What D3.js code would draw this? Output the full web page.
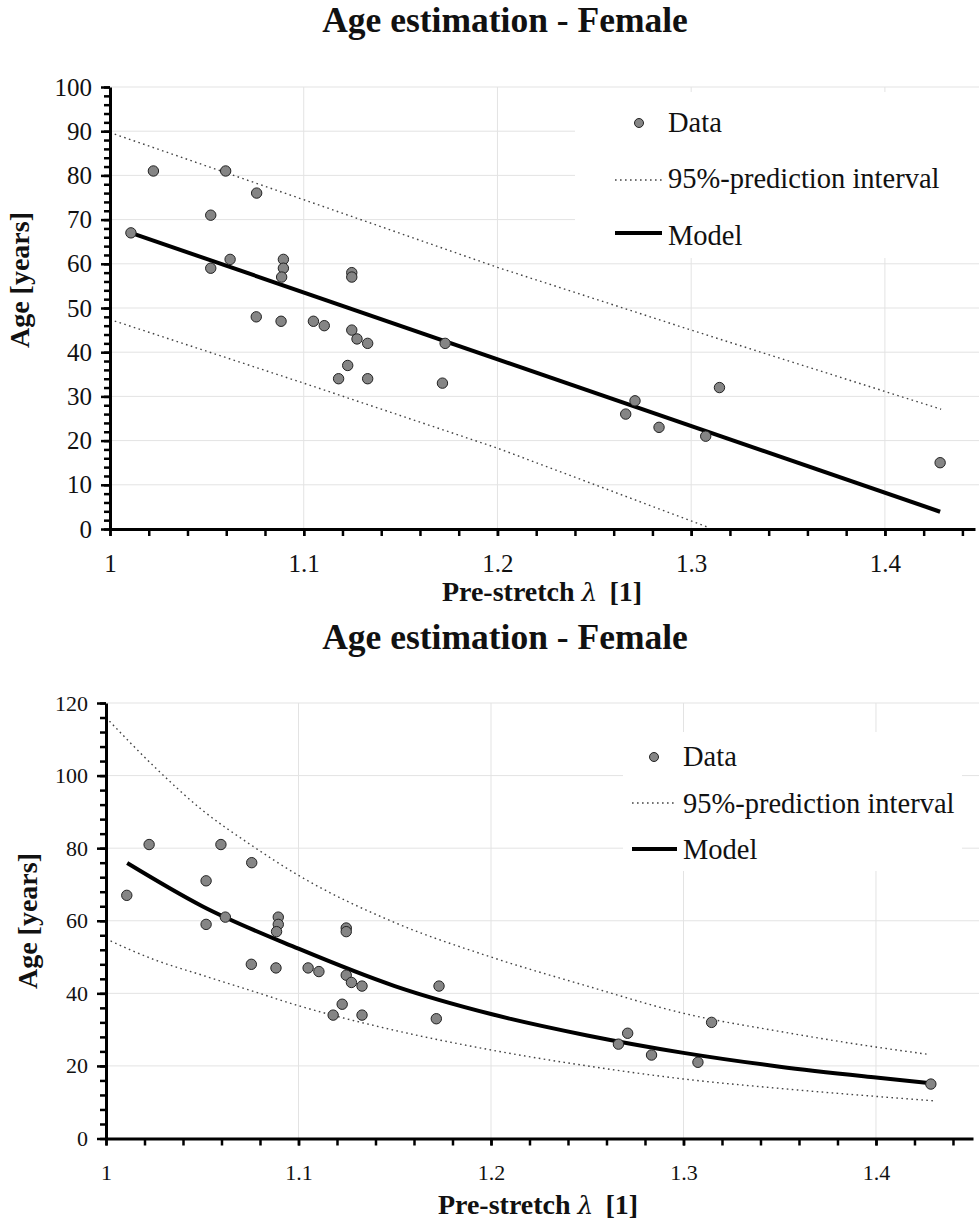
<!DOCTYPE html>
<html lang="en">
<head>
<meta charset="UTF-8" />
<title>Age estimation - Female</title>
<script src="https://d3js.org/d3.v7.min.js"></script>
<style>
  body { margin: 0; background: #fff; }
  svg { display: block; }
  .grid line { stroke: #e3e3e3; stroke-width: 1; }
  .axis path.domain { stroke: #000; stroke-width: 3; }
  .axis line { stroke: #000; stroke-width: 2.5; }
  .pi { fill: none; stroke: #444; stroke-width: 1.4; stroke-dasharray: 1.6 3.4; }
  .model { fill: none; stroke: #000; stroke-width: 4; }
  .dot { fill: #858585; stroke: #222; stroke-width: 1; }
</style>
</head>
<body>
<div id="chart"></div>
<script>
// measured data (pre-stretch lambda, age in years)
const lambda = [1.0108, 1.0224, 1.052, 1.0597, 1.0757, 1.052, 1.062, 1.0755, 1.0883, 1.0895,
                1.0895, 1.0886, 1.105, 1.1106, 1.1248, 1.1248, 1.1248, 1.1275, 1.133, 1.1227,
                1.118, 1.133, 1.173, 1.1716, 1.271, 1.2662, 1.2834, 1.3075, 1.3146, 1.4285];
const age = [67, 81, 71, 81, 76, 59, 61, 48, 47, 61,
             59, 57, 47, 46, 58, 57, 45, 43, 42, 37,
             34, 34, 42, 33, 29, 26, 23, 21, 32, 15];

// top panel: linear model
const linModelLambda = [1.0108, 1.4285];
const linModelAge = [67.0, 3.9];
const linUpperLambda = [1, 1.1, 1.2, 1.3, 1.429];
const linUpperAge = [89.7, 74.5, 59.2, 45.0, 27.1];
const linLowerLambda = [1, 1.1, 1.2, 1.308];
const linLowerAge = [47.4, 33.0, 18.3, 0.5];

// bottom panel: power model
const powModelLambda = [1.011, 1.05, 1.1, 1.15, 1.2, 1.25, 1.3, 1.35, 1.4, 1.429];
const powModelAge = [75.9, 64.0, 52.3, 42.0, 34.3, 28.4, 23.6, 19.8, 16.8, 15.2];
const powUpperLambda = [1, 1.025, 1.05, 1.075, 1.1, 1.15, 1.2, 1.25, 1.3, 1.35, 1.4, 1.427];
const powUpperAge = [116, 102.5, 90.5, 81, 72.5, 59.5, 50, 42, 34.5, 29.5, 25.2, 23.2];
const powLowerLambda = [1, 1.025, 1.05, 1.075, 1.1, 1.15, 1.2, 1.25, 1.3, 1.35, 1.4, 1.43];
const powLowerAge = [55, 49.3, 45, 40.8, 36.6, 29.8, 24.4, 20, 16.4, 13.8, 11.6, 10.4];

const xTicks = [1, 1.1, 1.2, 1.3, 1.4];
const topYTicks = [0, 10, 20, 30, 40, 50, 60, 70, 80, 90, 100];
const botYTicks = [0, 20, 40, 60, 80, 100, 120];

const title = "Age estimation - Female";
const legendLabels = ["Data", "95%-prediction interval", "Model"];

const FONT = "Liberation Serif, DejaVu Serif, serif";
const width = 979, height = 1225;
const svg = d3.select("#chart").append("svg")
    .attr("width", width).attr("height", height)
    .attr("font-family", FONT);

const zip = (xs, ys) => xs.map((x, i) => [x, ys[i]]);

// every text gets the serif font explicitly
function txt(sel, size, bold) {
    return sel.attr("font-family", FONT).attr("font-size", size)
        .attr("font-weight", bold ? "bold" : "normal").attr("fill", "#111");
}

function panel(cfg) {
    const x = d3.scaleLinear().domain([1, cfg.xMax]).range([cfg.left, cfg.right]);
    const y = d3.scaleLinear().domain([0, cfg.yMax]).range([cfg.bottom, cfg.top]);
    const g = svg.append("g");

    // title
    txt(g.append("text"), 35.5, true).attr("x", 505).attr("y", cfg.titleY)
        .attr("text-anchor", "middle").text(title);

    // grid
    const grid = g.append("g").attr("class", "grid");
    grid.selectAll(".h").data(cfg.yTicks.filter(d => d > 0)).enter().append("line")
        .attr("x1", cfg.left).attr("x2", width).attr("y1", d => y(d)).attr("y2", d => y(d));
    grid.selectAll(".v").data(xTicks.filter(d => d > 1)).enter().append("line")
        .attr("x1", d => x(d)).attr("x2", d => x(d)).attr("y1", cfg.top).attr("y2", cfg.bottom);

    // legend background hides the grid
    const lg = cfg.legend;
    g.append("rect").attr("x", lg.box[0]).attr("y", lg.box[1])
        .attr("width", lg.box[2]).attr("height", lg.box[3]).attr("fill", "#fff");

    // prediction interval + model
    const line = d3.line().x(d => x(d[0])).y(d => y(d[1]));
    const curve = d3.line().curve(d3.curveMonotoneX).x(d => x(d[0])).y(d => y(d[1]));
    const draw = cfg.curved ? curve : line;
    g.append("path").attr("class", "pi").attr("d", draw(cfg.upper));
    g.append("path").attr("class", "pi").attr("d", draw(cfg.lower));
    g.append("path").attr("class", "model").attr("d", draw(cfg.model));

    // points
    g.selectAll(".dot").data(zip(lambda, age)).enter().append("circle")
        .attr("class", "dot").attr("r", 5.2)
        .attr("cx", d => x(d[0])).attr("cy", d => y(d[1]));

    // axes: minor ticks
    const yMinor = d3.range(0, cfg.yMax + 0.001, cfg.yMinorStep);
    g.append("g").attr("class", "axis").attr("transform", `translate(${cfg.left},0)`)
        .call(d3.axisLeft(y).tickValues(yMinor).tickSize(6).tickSizeOuter(0).tickFormat(""));
    const xMinor = d3.range(1, cfg.xMax, 0.02);
    g.append("g").attr("class", "axis").attr("transform", `translate(0,${cfg.bottom})`)
        .call(d3.axisBottom(x).tickValues(xMinor).tickSize(7).tickSizeOuter(0).tickFormat(""));

    // major ticks with labels
    const ya = g.append("g").attr("class", "axis").attr("transform", `translate(${cfg.left},0)`)
        .call(d3.axisLeft(y).tickValues(cfg.yTicks).tickSize(9).tickPadding(cfg.yPad).tickSizeOuter(0));
    ya.select(".domain").remove();
    ya.attr("font-family", FONT);
    txt(ya.selectAll("text"), cfg.tickFont, false);
    const xa = g.append("g").attr("class", "axis").attr("transform", `translate(0,${cfg.bottom})`)
        .call(d3.axisBottom(x).tickValues(xTicks).tickSize(7).tickSizeOuter(0).tickFormat(d3.format("")));
    xa.select(".domain").remove();
    xa.attr("font-family", FONT);
    txt(xa.selectAll("text"), cfg.tickFont, false).attr("y", cfg.xLabOff).attr("dy", null);

    // axis titles
    const xl = txt(g.append("text"), 28, true).attr("x", cfg.xTitleX).attr("y", cfg.xTitleY)
        .attr("text-anchor", "middle");
    xl.append("tspan").text("Pre-stretch ");
    xl.append("tspan").attr("font-style", "italic").attr("font-weight", "normal")
        .attr("font-family", "DejaVu Serif, serif").attr("font-size", 25).text("λ");
    xl.append("tspan").attr("dx", 12).text("[1]");

    txt(g.append("text"), 28, true)
        .attr("transform", `translate(${cfg.yTitleX},${cfg.yTitleY}) rotate(-90)`)
        .attr("text-anchor", "middle").text("Age [years]");

    // legend entries
    g.append("circle").attr("class", "dot").attr("r", 4.5)
        .attr("cx", lg.marker[0]).attr("cy", lg.marker[1]);
    g.append("line").attr("class", "pi")
        .attr("x1", lg.lineX[0]).attr("x2", lg.lineX[1]).attr("y1", lg.piY).attr("y2", lg.piY);
    g.append("line").attr("class", "model")
        .attr("x1", lg.lineX[0]).attr("x2", lg.lineX[1]).attr("y1", lg.modelY).attr("y2", lg.modelY);
    txt(g.selectAll(".lgtext").data(legendLabels).enter().append("text"), 28.5, false)
        .attr("x", lg.textX).attr("y", (d, i) => lg.baselines[i])
        .text(d => d);
}

panel({
    left: 110, right: 975, xMax: 1.4465, top: 87, bottom: 529, yMax: 100,
    yTicks: topYTicks, yMinorStep: 2, tickFont: 25, yPad: 9, xLabOff: 43,
    titleY: 32, xTitleX: 542, xTitleY: 601, yTitleX: 29, yTitleY: 280,
    curved: false,
    model: zip(linModelLambda, linModelAge),
    upper: zip(linUpperLambda, linUpperAge),
    lower: zip(linLowerLambda, linLowerAge),
    legend: {
        box: [575, 92, 404, 166], marker: [639, 123], lineX: [615, 662],
        piY: 180, modelY: 233, textX: 668, baselines: [132, 188, 245]
    }
});

panel({
    left: 106, right: 973, xMax: 1.4504, top: 703, bottom: 1138.5, yMax: 120,
    yTicks: botYTicks, yMinorStep: 4, tickFont: 22, yPad: 9, xLabOff: 41,
    titleY: 649, xTitleX: 538, xTitleY: 1214, yTitleX: 37, yTitleY: 921,
    curved: true,
    model: zip(powModelLambda, powModelAge),
    upper: zip(powUpperLambda, powUpperAge),
    lower: zip(powLowerLambda, powLowerAge),
    legend: {
        box: [623, 732, 339, 139], marker: [654, 757], lineX: [632, 677],
        piY: 803, modelY: 849, textX: 683, baselines: [766, 813, 859]
    }
});
</script>
</body>
</html>
